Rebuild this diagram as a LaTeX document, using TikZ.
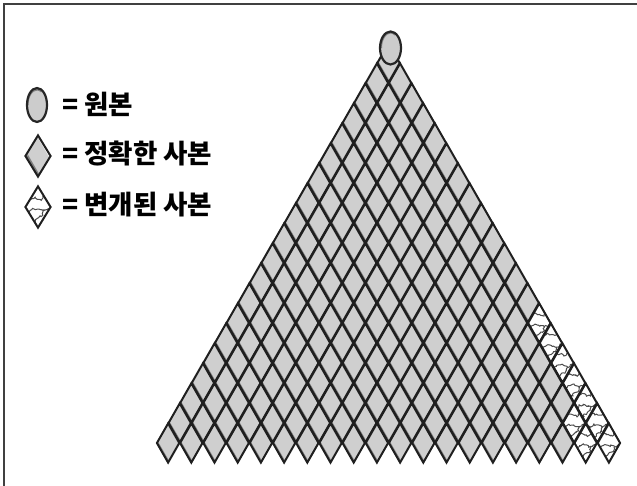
\documentclass[tikz,border=0pt]{standalone}
\usepackage{fontspec}
\newfontfamily\kor{Noto Sans CJK KR}
\usetikzlibrary{shapes.geometric,decorations.pathmorphing}

\begin{document}
\begin{tikzpicture}[x=1pt,y=-1pt,
                    originall/.style={ellipse, minimum width=21pt, minimum height=33pt, inner sep=0pt,
                      draw=black!85, line width=2.2pt, fill=black!20,
                      path picture={\draw[black!50, line width=4pt, shift={(path picture bounding box.center)}] (-10.5,0) arc (180:300:10.5 and 16.5);}},
                    copyy/.style={diamond, minimum width=23.2pt, minimum height=40pt, inner sep=0pt,
                      draw=black!88, line width=2pt, fill=black!19,
                      path picture={\draw[black!50, line width=4pt, shift={(path picture bounding box.center)}] (-11.6,0) -- (0,20);
                                    \draw[white, line width=1.8pt, shift={(path picture bounding box.center)}] (0,-20) -- (11.6,0);}},
                    badcopyy/.style={diamond, minimum width=23.2pt, minimum height=40pt, inner sep=0pt,
                      draw=black!88, line width=2pt, fill=white,
                      path picture={\draw[black!70, line width=1pt, shift={(path picture bounding box.center)},
                                      decorate, decoration={random steps, segment length=1.5pt, amplitude=1pt}]
                                      (-10,-6) .. controls (-2,-14) and (2,-2) .. (6,-11)
                                      (-9,5) .. controls (0,-3) and (2,8) .. (10,1)
                                      (-3,15) .. controls (0,8) and (4,12) .. (5,4);}},
                    labell/.style={anchor=west, inner sep=0pt, font=\kor\bfseries\fontsize{26.5}{30}\selectfont}]
  \pgfmathsetseed{7}
  \useasboundingbox (0,0) rectangle (637,486);
  % open frame, only top and left edges show
  \draw[black!75, line width=2pt] (3.5,486) -- (3.5,4.5) -- (637,4.5);

  % the copies, row by row (row 0 sits under the original)
  \foreach \k in {0,...,19}{
    \foreach \j in {0,...,\k}{
      \pgfmathtruncatemacro\bad{(\k>12 && \j==\k) || (\k>17 && \j==\k-1)}
      \ifnum\bad=1
        \node[badcopyy] (c-\k-\j) at ({388.5+11.6*(2*\j-\k)},{63+20*\k}) {};
      \else
        \node[copyy] (c-\k-\j) at ({388.5+11.6*(2*\j-\k)},{63+20*\k}) {};
      \fi
    }
  }
  \node (Original) [originall] at (390.5,48) {};

  % legend
  \node (LegOrig) [originall, minimum width=20pt, minimum height=34pt] at (37,105) {};
  \node (LegCopy) [copyy, minimum width=26pt, minimum height=42pt] at (38,156) {};
  \node (LegBad) [badcopyy, minimum width=26pt, minimum height=42pt] at (38,207) {};
  \node (TxtOrig) [labell] at (62,104) {= 원본};
  \node (TxtCopy) [labell] at (62,154) {= 정확한 사본};
  \node (TxtBad) [labell] at (62,205) {= 변개된 사본};
\end{tikzpicture}
\end{document}
